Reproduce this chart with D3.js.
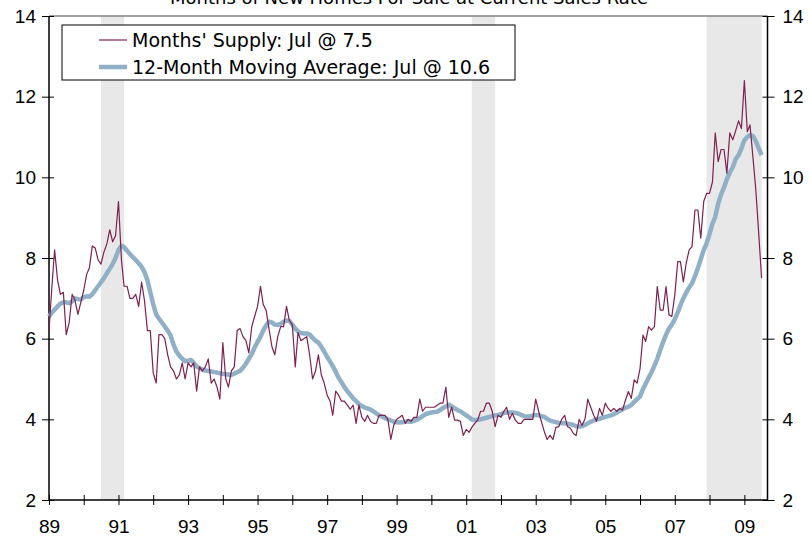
<!DOCTYPE html>
<html lang="en">
<head>
    <meta charset="UTF-8">
    <title>Months of New Homes For Sale</title>
    <style>
        body { margin: 0; background: #fff; }
        svg { display: block; font-family: "DejaVu Sans", Verdana, sans-serif; }
        .axis path { display: none; }
        .axis text { font-size: 19px; fill: #000; }
    </style>
</head>
<body>
<script src="https://d3js.org/d3.v7.min.js"></script>
<script>
    // monthly data, Jan 1989 .. Jul 2009
    const firstMonth = "1989-01";
    const supply = [
        6.2, 7.3, 8.2, 7.45, 7.1, 7.15, 6.1, 6.4, 7.1, 6.95, 6.6, 6.9,
        7.2, 7.6, 7.75, 8.3, 8.25, 7.95, 7.85, 8.15, 8.35, 8.7, 8.4, 8.55,
        9.4, 7.95, 7.3, 7.3, 7.0, 7.0, 7.1, 6.8, 7.4, 6.95, 6.2, 6.2,
        5.15, 4.9, 6.1, 6.1, 6.0, 5.6, 5.3, 5.2, 5.0, 5.1, 5.4, 5.0,
        5.4, 5.3, 5.4, 4.7, 5.3, 5.2, 5.3, 5.5, 4.9, 5.0, 4.8, 4.5,
        5.9, 5.0, 4.8, 5.2, 5.3, 6.2, 6.25, 6.05, 5.95, 5.65, 6.3, 6.55,
        6.8, 7.3, 6.85, 6.7, 6.25, 5.8, 5.6, 6.05, 6.3, 6.3, 6.8, 6.45,
        6.35, 5.3, 6.15, 5.95, 6.0, 6.05, 5.6, 5.0, 5.2, 5.6, 5.1, 4.9,
        4.6, 4.45, 4.1, 4.7, 4.6, 4.45, 4.45, 4.35, 4.25, 4.35, 3.9, 4.35,
        4.05, 3.95, 4.1, 3.95, 3.9, 3.9, 4.1, 4.1, 4.1, 4.0, 3.5, 3.85,
        4.0, 4.05, 4.1, 3.9, 4.0, 3.95, 4.05, 4.05, 4.5, 4.2, 4.3, 4.3,
        4.3, 4.3, 4.35, 4.4, 4.4, 4.8, 4.05, 4.3, 3.98, 3.98, 3.95, 3.6,
        3.75, 3.68, 3.8, 3.9, 3.98, 4.2, 4.2, 4.4, 4.4, 4.2, 3.82, 4.1,
        4.05, 4.2, 4.3, 4.0, 4.15, 3.98, 3.9, 3.9, 4.0, 4.0, 4.0, 4.0,
        4.5, 4.2, 3.95, 3.7, 3.5, 3.6, 3.5, 3.8, 3.82, 4.0, 4.1, 3.82,
        3.78, 3.65, 3.6, 4.0, 3.85, 4.0, 4.5, 4.3, 4.1, 3.95, 4.27, 4.1,
        4.4, 4.27, 4.2, 4.27, 4.2, 4.27, 4.23, 4.48, 4.69, 4.52, 4.98, 4.9,
        5.26, 6.09, 5.93, 6.3, 6.21, 6.3, 7.29, 6.71, 6.71, 7.29, 6.59, 6.55,
        7.08, 7.91, 7.91, 7.41, 7.87, 8.2, 8.28, 9.19, 9.19, 8.49, 9.4, 9.6,
        9.6, 9.89, 11.1, 10.39, 10.69, 10.69, 10.1, 11.1, 10.93, 11.15, 11.4, 11.21,
        12.4, 11.13, 11.3, 10.5, 9.7, 8.6, 7.5
    ];
    const movingAvg = [
        6.55, 6.65, 6.72, 6.8, 6.87, 6.9, 6.9, 6.88, 6.92, 7.0, 6.98, 6.97,
        7.03, 7.05, 7.04, 7.1, 7.2, 7.3, 7.4, 7.5, 7.62, 7.73, 7.85, 8.0,
        8.2, 8.3, 8.27, 8.18, 8.1, 8.02, 7.95, 7.87, 7.78, 7.65, 7.45, 7.15,
        6.85, 6.6, 6.5, 6.4, 6.3, 6.2, 6.08, 5.85, 5.68, 5.58, 5.5, 5.44,
        5.45, 5.47, 5.4, 5.31, 5.27, 5.23, 5.21, 5.2, 5.19, 5.17, 5.16, 5.14,
        5.13, 5.12, 5.11, 5.1, 5.13, 5.17, 5.2, 5.28, 5.38, 5.5, 5.62, 5.78,
        5.92, 6.05, 6.2, 6.33, 6.42, 6.4, 6.35, 6.34, 6.37, 6.42, 6.45, 6.44,
        6.35, 6.25, 6.18, 6.14, 6.13, 6.13, 6.1, 6.02, 5.95, 5.9, 5.8, 5.68,
        5.55, 5.43, 5.32, 5.18, 5.03, 4.92, 4.8, 4.7, 4.61, 4.52, 4.45, 4.38,
        4.33, 4.29, 4.27, 4.24, 4.2, 4.15, 4.1, 4.07, 4.03, 4.0, 3.97, 3.94,
        3.93, 3.92, 3.93, 3.94, 3.95, 3.94, 3.96, 3.99, 4.03, 4.08, 4.13, 4.15,
        4.17, 4.18, 4.19, 4.23, 4.28, 4.32, 4.36, 4.32, 4.27, 4.23, 4.2, 4.15,
        4.1, 4.05, 4.0, 3.98, 3.99, 4.0, 4.02, 4.04, 4.06, 4.08, 4.1, 4.11,
        4.13, 4.16, 4.17, 4.17, 4.17, 4.16, 4.14, 4.11, 4.08, 4.07, 4.07, 4.09,
        4.11, 4.1, 4.08, 4.06, 4.01, 3.97, 3.95, 3.93, 3.91, 3.9, 3.9, 3.89,
        3.88, 3.86, 3.83, 3.82, 3.83, 3.86, 3.9, 3.94, 3.97, 4.01, 4.01, 4.04,
        4.06, 4.08, 4.1, 4.13, 4.17, 4.21, 4.25, 4.29, 4.31, 4.36, 4.43, 4.5,
        4.57, 4.75, 4.88, 5.03, 5.17, 5.33, 5.5, 5.72, 5.92, 6.1, 6.25, 6.35,
        6.48, 6.65, 6.83, 7.0, 7.14, 7.27, 7.37, 7.55, 7.75, 7.97, 8.2, 8.36,
        8.6, 8.85, 9.02, 9.35, 9.57, 9.75, 9.95, 10.12, 10.25, 10.45, 10.55, 10.72,
        10.92, 11.0, 11.05, 11.02, 10.9, 10.72, 10.55
    ];
    // recession bands (first month, last month)
    const recessions = [["1990-07", "1991-03"], ["2001-03", "2001-11"], ["2007-12", "2009-07"]];
    const yTicks = [2, 4, 6, 8, 10, 12, 14];
    const xTickYears = d3.range(1989, 2010);
    const xLabelYears = [1989, 1991, 1993, 1995, 1997, 1999, 2001, 2003, 2005, 2007, 2009];
    const title = "Months of New Homes For Sale at Current Sales Rate";
    const legendLabels = ["Months' Supply: Jul @ 7.5", "12-Month Moving Average: Jul @ 10.6"];

    const parseMonth = d3.timeParse("%Y-%m");
    const start = parseMonth(firstMonth);
    const monthAt = i => d3.timeMonth.offset(start, i);

    const width = 809, height = 542;
    const plotLeft = 49, plotRight = 767.5, plotTop = 16, plotBottom = 500;

    const x = d3.scaleTime()
        .domain([start, parseMonth("2009-09")])
        .range([plotLeft, plotRight]);
    const y = d3.scaleLinear()
        .domain([2, 14])
        .range([plotBottom, plotTop]);

    const svg = d3.select("body").append("svg")
        .attr("width", width)
        .attr("height", height);

    // title (cut off at the top like the source)
    svg.append("text")
        .attr("x", 409)
        .attr("y", 3.5)
        .attr("text-anchor", "middle")
        .style("font-size", "18px")
        .text(title);

    // recession shading
    svg.selectAll(".rec")
        .data(recessions)
        .enter().append("rect")
        .attr("x", d => x(parseMonth(d[0])))
        .attr("width", d => x(parseMonth(d[1])) - x(parseMonth(d[0])))
        .attr("y", plotTop)
        .attr("height", plotBottom - plotTop)
        .attr("fill", "#e8e8e8");

    // top border
    svg.append("line")
        .attr("x1", plotLeft).attr("x2", plotRight)
        .attr("y1", plotTop).attr("y2", plotTop)
        .attr("stroke", "#808080")
        .attr("stroke-width", 1.5);

    // axes
    const yearDates = xTickYears.map(yr => new Date(yr, 0, 1));
    const fmt = d3.timeFormat("%y");
    const gx = svg.append("g")
        .attr("class", "axis")
        .attr("transform", `translate(0,${plotBottom})`)
        .call(d3.axisBottom(x)
            .tickValues(yearDates)
            .tickFormat(d => xLabelYears.includes(d.getFullYear()) ? fmt(d) : ""));
    gx.selectAll(".tick line").attr("y1", -5).attr("y2", 5).attr("stroke", "#000");
    gx.selectAll(".tick text").attr("y", 33).attr("dy", 0);

    const gl = svg.append("g")
        .attr("class", "axis")
        .attr("transform", `translate(${plotLeft},0)`)
        .call(d3.axisLeft(y).tickValues(yTicks).tickFormat(d3.format("d")));
    gl.selectAll(".tick line").attr("x1", -7).attr("x2", 5).attr("stroke", "#000");
    gl.selectAll(".tick text").attr("x", -13);

    const gr = svg.append("g")
        .attr("class", "axis")
        .attr("transform", `translate(${plotRight},0)`)
        .call(d3.axisRight(y).tickValues(yTicks).tickFormat(d3.format("d")));
    gr.selectAll(".tick line").attr("x1", -5).attr("x2", 7).attr("stroke", "#000");
    gr.selectAll(".tick text").attr("x", 15);

    // axis lines
    svg.append("path")
        .attr("d", `M${plotLeft},${plotTop}V${plotBottom}H${plotRight}V${plotTop}`)
        .attr("fill", "none")
        .attr("stroke", "#000")
        .attr("stroke-width", 1.5);

    // series
    const line = d3.line()
        .x((d, i) => x(monthAt(i)))
        .y(d => y(d));

    svg.append("path")
        .datum(movingAvg)
        .attr("d", line)
        .attr("fill", "none")
        .attr("stroke", "#8fb0c6")
        .attr("stroke-width", 4.5)
        .attr("stroke-linejoin", "round");

    svg.append("path")
        .datum(supply)
        .attr("d", line)
        .attr("fill", "none")
        .attr("stroke", "#7d2150")
        .attr("stroke-width", 1.2)
        .attr("stroke-linejoin", "round");

    // legend
    const lg = svg.append("g");
    lg.append("rect")
        .attr("x", 62).attr("y", 25)
        .attr("width", 453).attr("height", 55)
        .attr("fill", "#fff")
        .attr("stroke", "#000")
        .attr("stroke-width", 1);
    const legendStyle = [
        {color: "#7d2150", w: 1.2},
        {color: "#8fb0c6", w: 4.5}
    ];
    legendLabels.forEach((t, i) => {
        const ly = 40 + i * 27;
        lg.append("line")
            .attr("x1", 99).attr("x2", 127)
            .attr("y1", ly).attr("y2", ly)
            .attr("stroke", legendStyle[i].color)
            .attr("stroke-width", legendStyle[i].w);
        lg.append("text")
            .attr("x", 132)
            .attr("y", ly + 6.5)
            .style("font-size", "19px")
            .text(t);
    });
</script>
</body>
</html>
